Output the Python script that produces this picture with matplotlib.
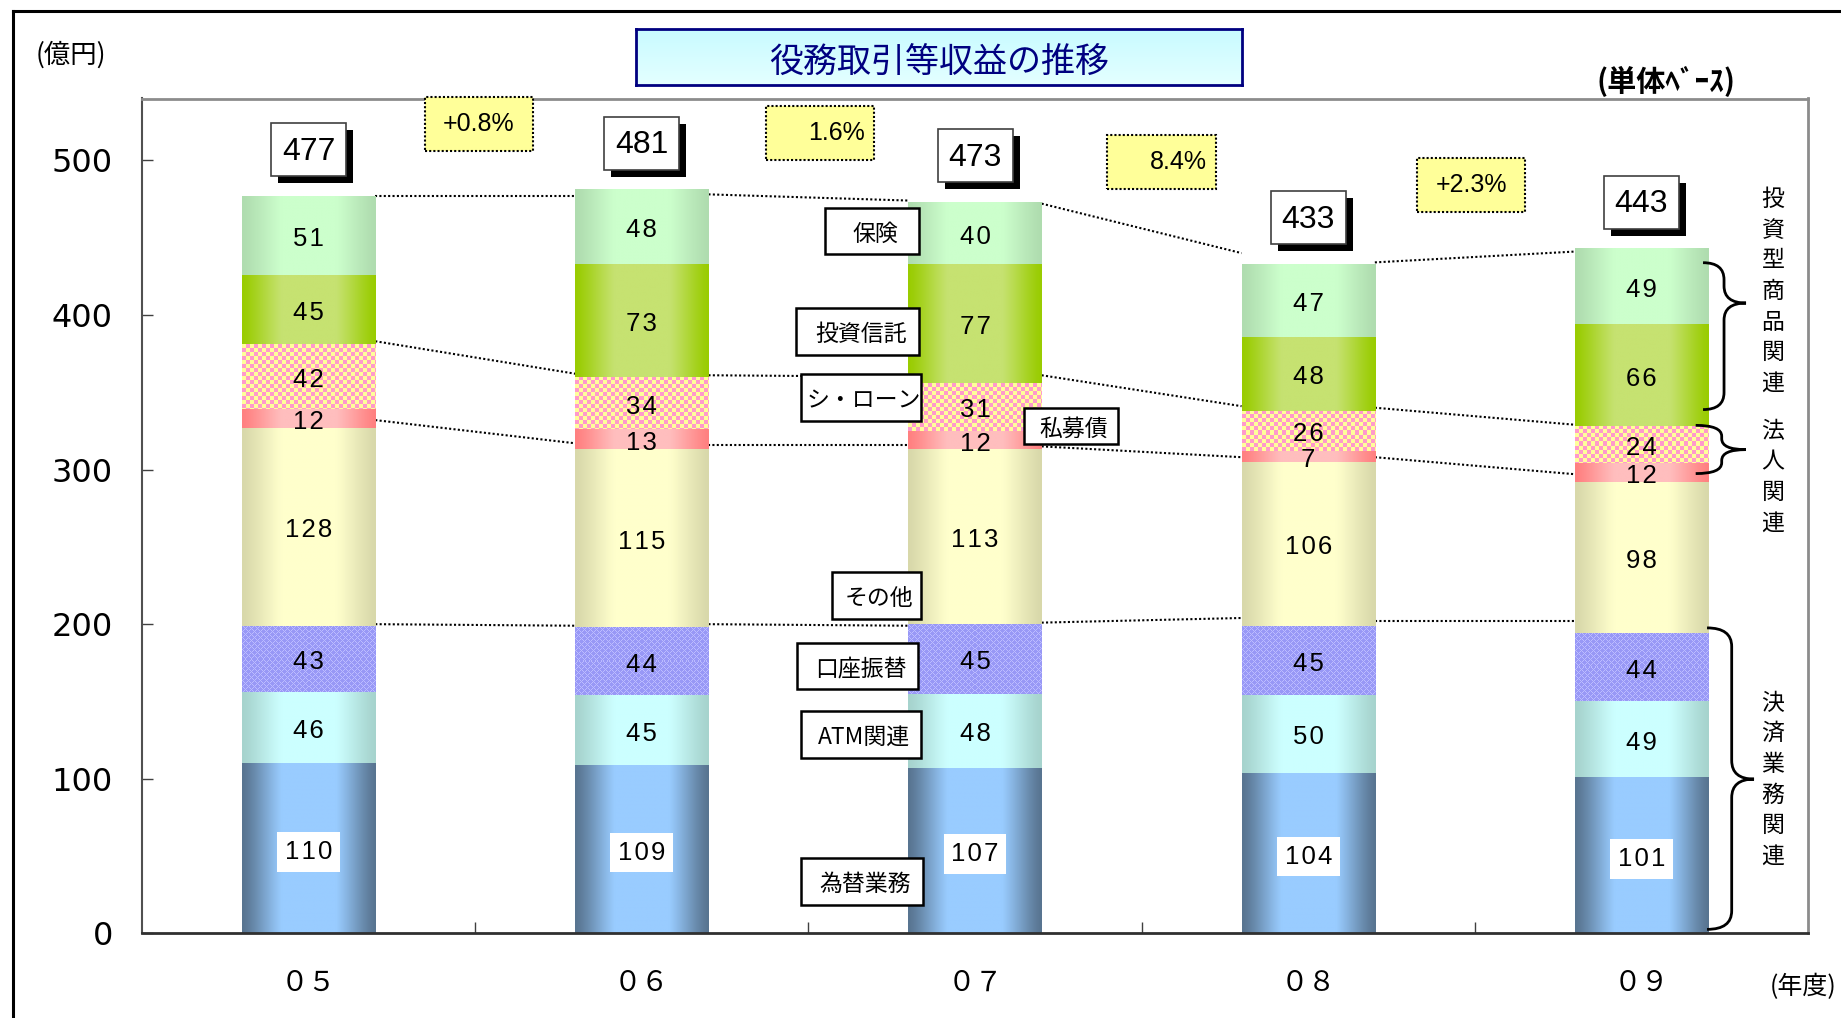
import numpy as np
import matplotlib
matplotlib.use('Agg')
import matplotlib.pyplot as plt
from matplotlib.patches import Rectangle, PathPatch
from matplotlib.path import Path
from matplotlib.lines import Line2D
from matplotlib.colors import to_rgb

plt.rcParams['font.family'] = ['Noto Sans CJK JP', 'DejaVu Sans']

# ============================================================
# データ
# ============================================================
years = ['０５', '０６', '０７', '０８', '０９']
series_names = ['為替業務', 'ATM関連', '口座振替', 'その他', '私募債', 'シ・ローン', '投資信託', '保険']
kawase = [110, 109, 107, 104, 101]
atm = [46, 45, 48, 50, 49]
koza = [43, 44, 45, 45, 44]
sonota = [128, 115, 113, 106, 98]
shibo = [12, 13, 12, 7, 12]
synd = [42, 34, 31, 26, 24]
toshin = [45, 73, 77, 48, 66]
hoken = [51, 48, 40, 47, 49]
totals = [477, 481, 473, 433, 443]
growth = ['+0.8%', '1.6%', '8.4%', '+2.3%']

# 系列線 (左端, 右端) -- 図から読み取り
line_top = [(477, 477), (478, 474), (472, 440), (434, 441)]
line_toshin = [(383, 362), (361, 360), (361, 341), (340, 329)]
line_shibo = [(332, 317), (316, 316), (315, 308), (308, 297)]
line_other = [(200, 199), (200, 199), (201, 204), (202, 202)]

groups = [('投資型商品関連', 474.7), ('法人関連', 324.8), ('決済業務関連', 149.0)]

# ============================================================
# 体裁
# ============================================================
W, H = 1841, 1018
AX_L, AX_R, AX_T, AX_B = 142, 1808, 98.5, 933.4
YMAX = 540
BAR_W = 0.4
NUM_FONT = ['Liberation Sans', 'DejaVu Sans']

styles = [
    ('grad', '#587490', '#99ccff'),
    ('grad', '#a6d3cd', '#ccffff'),
    ('lattice', '#9898f6', '#bcbcff'),
    ('grad', '#d8d8aa', '#ffffcc'),
    ('grad', '#ff8080', '#ffbebe'),
    ('check', '#ff99cc', '#ffff99'),
    ('grad', '#99cc00', '#c6e271'),
    ('grad', '#afdcaf', '#ccffcc'),
]

fig = plt.figure(figsize=(W / 100, H / 100), dpi=100)
ax = fig.add_axes([AX_L / W, 1 - AX_B / H, (AX_R - AX_L) / W, (AX_B - AX_T) / H])
ax.set_xlim(-0.5, 4.5)
ax.set_ylim(0, YMAX)
px_x = (AX_R - AX_L) / 5.0
px_y = (AX_B - AX_T) / YMAX


def grad_image(edge, mid, n=256):
    t = np.linspace(0, 1, n)
    k = np.clip(np.sin(np.pi * t) * 1.25, 0, 1) ** 1.3
    e, m = np.array(to_rgb(edge)), np.array(to_rgb(mid))
    rgb = (1 - k)[:, None] * e + k[:, None] * m
    return rgb[None, :, :]


def pattern_image(w_px, h_px, kind, c1, c2):
    ii, jj = np.mgrid[0:h_px, 0:w_px]
    if kind == 'check':
        m = ((ii // 4) + (jj // 4)) % 2 == 0
    else:
        m = ((ii + jj) % 6 == 0) | ((ii - jj) % 6 == 0)
    a, b = np.array(to_rgb(c1)), np.array(to_rgb(c2))
    return np.where(m[..., None], b, a)


def spaced(v):
    return '\u200a'.join(str(v))


series = [kawase, atm, koza, sonota, shibo, synd, toshin, hoken]
x = np.arange(len(years))
bottom = np.zeros(len(years))
for s, (vals, st) in enumerate(zip(series, styles)):
    vals = np.array(vals, dtype=float)
    bars = ax.bar(x, vals, BAR_W, bottom=bottom, color=st[1], lw=0, zorder=2)
    for rect in bars:
        x0, y0 = rect.get_x(), rect.get_y()
        w, h = rect.get_width(), rect.get_height()
        if st[0] == 'grad':
            img = grad_image(st[1], st[2])
        else:
            img = pattern_image(max(int(round(w * px_x)), 1), max(int(round(h * px_y)), 1),
                                st[0], st[1], st[2])
        ax.imshow(img, extent=(x0, x0 + w, y0, y0 + h), aspect='auto',
                  interpolation='nearest' if st[0] != 'grad' else 'bilinear', zorder=2.1)
    for i, v in enumerate(vals):
        kw = dict(ha='center', va='center', fontsize=18.5, zorder=5, family=NUM_FONT)
        if s == 0:
            kw['bbox'] = dict(boxstyle='square,pad=0.3', fc='white', ec='none')
        ax.text(i, bottom[i] + v / 2 - 3.5 / px_y, spaced(int(v)), **kw)
    bottom += vals

ax.set_xlim(-0.5, 4.5)
ax.set_ylim(0, YMAX)

# 系列線
for lines in (line_top, line_toshin, line_shibo, line_other):
    for i, (l, r) in enumerate(lines):
        ax.plot([i + BAR_W / 2, i + 1 - BAR_W / 2], [l, r], color='k', lw=1.5,
                ls=(0, (1, 1.1)), zorder=1.5)

# 合計ボックス (影付き)
bw, bh = 75 / px_x, 53 / px_y
sx, sy = 7 / px_x, 7 / px_y
for i, t in enumerate(totals):
    yc = t + 30
    ax.add_patch(Rectangle((i - bw / 2 + sx, yc - bh / 2 - sy), bw, bh, fc='black', ec='none',
                           zorder=6, clip_on=False))
    ax.add_patch(Rectangle((i - bw / 2, yc - bh / 2), bw, bh, fc='white', ec='#404040', lw=1.2,
                           zorder=6.5, clip_on=False))
    ax.text(i, yc - 2 / px_y, str(t), ha='center', va='center', fontsize=23, family=NUM_FONT,
            zorder=7)

# 増減率ボックス
gx = [0.511, 1.535, 2.559, 3.489]
gy = [523.4, 517.6, 499.1, 483.8]
gw, gh = 108.5 / px_x, 54 / px_y
for g, xc, yc in zip(growth, gx, gy):
    ax.add_patch(Rectangle((xc - gw / 2, yc - gh / 2), gw, gh, fc='#ffff99', ec='k',
                           lw=1.5, ls=(0, (1, 1)), clip_on=False, zorder=6))
    if g.startswith('+'):
        ax.text(xc, yc, g, ha='center', va='center', fontsize=18, zorder=7, family=NUM_FONT)
    else:
        ax.text(xc + gw / 2 - 9 / px_x, yc, g, ha='right', va='center', fontsize=18, zorder=7,
                family=NUM_FONT)

# 系列名の吹き出し (x0, x1, y0, y1)
callouts = [
    ('保険', 1.551, 1.831, 439.2, 469.1),
    ('投資信託', 1.464, 1.831, 373.9, 404.3),
    ('シ・ローン', 1.477, 1.837, 331.3, 361.6),
    ('私募債', 2.146, 2.430, 316.8, 339.8),
    ('その他', 1.570, 1.837, 203.2, 233.6),
    ('口座振替', 1.465, 1.830, 158.0, 187.7),
    ('ATM関連', 1.477, 1.837, 113.4, 143.8),
    ('為替業務', 1.477, 1.843, 18.4, 48.7),
]
for name, x0, x1, y0, y1 in callouts:
    ax.add_patch(Rectangle((x0, y0), x1 - x0, y1 - y0, fc='white', ec='k', lw=1.8, zorder=6))
    ax.text((x0 + x1) / 2 + 3 / px_x, (y0 + y1) / 2 - 3 / px_y, name, ha='center', va='center',
            fontsize=16.5, zorder=7)


# 右側の括弧
def brace(x0, x1, x2, yt, ym, yb, r):
    verts = [(x0, yt), (x1, yt), (x1, yt - r),
             (x1, ym + r), (x1, ym), (x2, ym),
             (x1, ym), (x1, ym - r),
             (x1, yb + r), (x1, yb), (x0, yb)]
    codes = [Path.MOVETO, Path.CURVE3, Path.CURVE3, Path.LINETO, Path.CURVE3, Path.CURVE3,
             Path.CURVE3, Path.CURVE3, Path.LINETO, Path.CURVE3, Path.CURVE3]
    ax.add_patch(PathPatch(Path(verts, codes), fill=False, ec='k', lw=2, clip_on=False, zorder=6))


brace(4.185, 4.248, 4.314, 433.8, 407.7, 338.8, 11)
brace(4.163, 4.241, 4.313, 328.6, 312.9, 297.4, 7)
brace(4.197, 4.271, 4.338, 197.6, 99.8, 2.6, 12)

step = 30.7 / px_y
for label, ytop in groups:
    for k, ch in enumerate(label):
        ax.text(4.395, ytop - k * step, ch, ha='center', va='center', fontsize=16.5,
                zorder=7, clip_on=False)

# 軸
ax.set_yticks(range(0, 501, 100))
ax.tick_params(axis='y', direction='in', length=7.7, width=1, color='#404040',
               labelsize=23, pad=21)
for lbl in ax.get_yticklabels():
    lbl.set_fontfamily('DejaVu Sans')
ax.set_xticks(x)
ax.set_xticklabels(years, fontsize=20)
ax.tick_params(axis='x', which='major', length=0, pad=25)
ax.set_xticks([0.5, 1.5, 2.5, 3.5], minor=True)
ax.tick_params(axis='x', which='minor', direction='in', length=7.7, width=1, color='#404040')
ax.spines['left'].set_color('#505050')
ax.spines['left'].set_linewidth(1.5)
ax.spines['bottom'].set_color('#303030')
ax.spines['bottom'].set_linewidth(2)
for side in ('top', 'right'):
    ax.spines[side].set_color('#8c8c8c')
    ax.spines[side].set_linewidth(2)

# タイトル
tax = fig.add_axes([636 / W, 1 - 85 / H, 606 / W, 56 / H])
tg = np.linspace(0, 1, 64)[:, None, None]
timg = (1 - tg) * np.array(to_rgb('#c8fbff')) + tg * np.array(to_rgb('#e4ffff'))
tax.imshow(np.repeat(timg, 2, axis=1), extent=(0, 1, 0, 1), aspect='auto')
tax.set_xlim(0, 1)
tax.set_ylim(0, 1)
tax.set_xticks([])
tax.set_yticks([])
for sp in tax.spines.values():
    sp.set_color('#000080')
    sp.set_linewidth(2)
tax.text(0.5, 0.41, '役務取引等収益の推移', ha='center', va='center', fontsize=24.5,
         color='#000080')

fig.text(70.4 / W, 1 - 55 / H, '(億円)', ha='center', va='center', fontsize=19)
fig.text(1666 / W, 1 - 81 / H, '(単体ﾍﾞｰｽ)', ha='center', va='center', fontsize=21,
         weight='bold')
fig.text(1803 / W, 1 - 987 / H, '(年度)', ha='center', va='center', fontsize=18)

# 外枠
fig.add_artist(Line2D([12.5 / W, 12.5 / W], [0, 1 - 10.5 / H], transform=fig.transFigure,
                      color='k', lw=2.2))
fig.add_artist(Line2D([12.5 / W, 1], [1 - 10.5 / H, 1 - 10.5 / H], transform=fig.transFigure,
                      color='k', lw=2.2))

fig.savefig('out.png', dpi=100)
